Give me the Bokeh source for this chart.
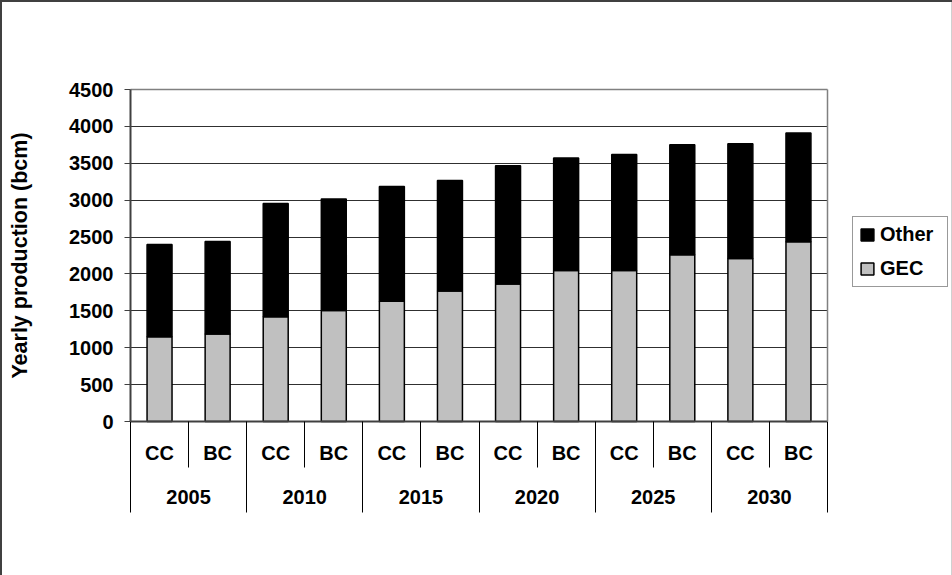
from bokeh.plotting import figure
from bokeh.models import (FactorRange, Range1d, CategoricalAxis, LinearAxis, FixedTicker,
                          Legend, LegendItem, ColumnDataSource)
from bokeh.embed import file_html
from bokeh.resources import INLINE

# ---- data ----
years = ["2005", "2010", "2015", "2020", "2025", "2030"]
cases = ["CC", "BC"]
gec = [1150, 1185, 1420, 1505, 1630, 1770, 1865, 2045, 2045, 2260, 2210, 2435]
other = [1250, 1255, 1535, 1510, 1555, 1495, 1600, 1525, 1575, 1490, 1555, 1475]
y_ticks = [0, 500, 1000, 1500, 2000, 2500, 3000, 3500, 4000, 4500]
series_names = ["GEC", "Other"]
y_label = "Yearly production (bcm)"

FONT = "Liberation Sans"
factors = [(y, c) for y in years for c in cases]
n = len(factors)
src = ColumnDataSource(dict(x=factors, GEC=gec, Other=other))

# helper factors marking the boundaries between years / between cases
group_edges = ["g%d" % i for i in range(len(years) + 1)]
case_edges = ["c%d" % i for i in range(len(years))]

# ---- layout (pixels) ----
W, H = 952, 575
FRAME_LEFT = 5                      # frame spans the whole canvas (except 5px on the left)
PLOT_L, PLOT_R = 130, 827           # plot area
PLOT_T, PLOT_B = 89, 421
slot_px = (PLOT_R - PLOT_L) / n
pad = (PLOT_L - FRAME_LEFT) / slot_px   # padding in slots on each side
y_max = y_ticks[-1]
k = (PLOT_B - PLOT_T) / y_max           # px per unit
y_top = y_max + PLOT_T / k
y_bot = -(H - PLOT_B) / k

p = figure(
    width=W, height=H,
    x_range=FactorRange(factors=factors, group_padding=0, factor_padding=0,
                        range_padding=pad, range_padding_units="absolute"),
    y_range=Range1d(y_bot, y_top),
    output_backend="svg", toolbar_location=None,
    min_border_left=FRAME_LEFT, min_border_right=0, min_border_top=0, min_border_bottom=0,
    styles={"position": "absolute", "left": "0px", "top": "0px",
            "box-shadow": "inset 2px 2px 0 0 #404040, inset -1px 0 0 0 #d0d0d0",
            "background-color": "white"},
)
p.border_fill_color = None
p.background_fill_color = None
p.outline_line_color = None
p.xgrid.visible = False
p.ygrid.visible = False

p.extra_x_ranges = {
    "years": FactorRange(factors=years, factor_padding=0,
                         range_padding=pad / 2, range_padding_units="absolute"),
    "gedges": FactorRange(factors=group_edges, factor_padding=1,
                          range_padding=pad - 0.5, range_padding_units="absolute"),
    "cedges": FactorRange(factors=case_edges, factor_padding=1,
                          range_padding=pad + 0.5, range_padding_units="absolute"),
}

# horizontal grid lines: long inward ticks of a hidden axis, drawn under the bars
grid_ax = LinearAxis(fixed_location=0, ticker=FixedTicker(ticks=y_ticks[1:-1], minor_ticks=[]),
                     axis_line_color=None, major_tick_in=int(PLOT_R - PLOT_L), major_tick_out=0,
                     major_tick_line_color="#303030", major_tick_line_width=1,
                     minor_tick_line_color=None, major_label_text_alpha=0, level="underlay")
p.add_layout(grid_ax, "left")

# bars
r = p.vbar_stack(series_names, x="x", width=0.43, source=src,
                 fill_color=["#c0c0c0", "#000000"], line_color="black", line_width=1.5)

# y axis
ya = p.yaxis[0]
ya.fixed_location = 0
ya.bounds = (y_ticks[0], y_max)
ya.ticker = FixedTicker(ticks=y_ticks, minor_ticks=[])
ya.axis_line_color = "#404040"
ya.axis_line_width = 2
ya.major_tick_out = 6
ya.major_tick_in = 0
ya.major_tick_line_color = "#404040"
ya.minor_tick_line_color = None
ya.major_label_standoff = 11
ya.major_label_text_font = FONT
ya.major_label_text_font_style = "bold"
ya.major_label_text_font_size = "20px"
ya.major_label_text_color = "black"
ya.axis_label = y_label
ya.axis_label_text_font = FONT
ya.axis_label_text_font_style = "bold"
ya.axis_label_text_font_size = "21.5px"
ya.axis_label_text_color = "black"
ya.axis_label_standoff = 34

# grey plot-area border: top and right
top_ax = CategoricalAxis(fixed_location=y_max, bounds=(0, n),
                         axis_line_color="#808080", axis_line_width=1.5,
                         major_tick_line_color=None, major_tick_out=0, major_tick_in=0,
                         major_label_text_alpha=0, group_text_alpha=0, separator_line_color=None)
p.add_layout(top_ax, "above")
right_ax = LinearAxis(fixed_location=n, bounds=(y_ticks[0], y_max),
                      ticker=FixedTicker(ticks=[], minor_ticks=[]),
                      axis_line_color="#808080", axis_line_width=1.5,
                      major_tick_line_color=None, minor_tick_line_color=None,
                      major_label_text_alpha=0)
p.add_layout(right_ax, "left")

# main x axis: CC / BC labels, on the zero line
xa = p.below[0]
xa.fixed_location = 0
xa.bounds = (0, n)
xa.axis_line_color = "#404040"
xa.axis_line_width = 2
xa.major_tick_line_color = None
xa.major_tick_out = 0
xa.major_tick_in = 0
xa.major_label_standoff = 20
xa.major_label_text_font = FONT
xa.major_label_text_font_style = "bold"
xa.major_label_text_font_size = "20px"
xa.major_label_text_color = "black"
xa.group_text_alpha = 0
xa.separator_line_color = None

# year labels
yr_axis = CategoricalAxis(x_range_name="years", fixed_location=0,
                          axis_line_color=None, major_tick_line_color=None,
                          major_tick_out=0, major_tick_in=0, major_label_standoff=68,
                          major_label_text_font=FONT, major_label_text_font_style="bold",
                          major_label_text_font_size="20px", major_label_text_color="black")
p.add_layout(yr_axis, "below")

# separators
long_ax = CategoricalAxis(x_range_name="gedges", fixed_location=0,
                          axis_line_color=None, major_tick_out=91, major_tick_in=0,
                          major_tick_line_color="black", major_tick_line_width=1,
                          major_label_text_alpha=0)
p.add_layout(long_ax, "below")
short_ax = CategoricalAxis(x_range_name="cedges", fixed_location=0,
                           axis_line_color=None, major_tick_out=46, major_tick_in=0,
                           major_tick_line_color="black", major_tick_line_width=1,
                           major_label_text_alpha=0)
p.add_layout(short_ax, "below")

# legend (inside the frame, which covers the canvas)
legend = Legend(
    items=[LegendItem(label=series_names[1], renderers=[r[1]]),
           LegendItem(label=series_names[0], renderers=[r[0]])],
    location=(852 - FRAME_LEFT, H - 287),
    label_text_font=FONT, label_text_font_style="bold", label_text_font_size="20px",
    label_text_color="black",
    glyph_width=16, glyph_height=15, label_standoff=5, padding=6, spacing=11, margin=0,
    label_height=20, label_width=61,
    border_line_color="#333333", border_line_width=1, background_fill_color="white",
)
p.add_layout(legend)

open("out.html", "w").write(file_html(p, INLINE))
